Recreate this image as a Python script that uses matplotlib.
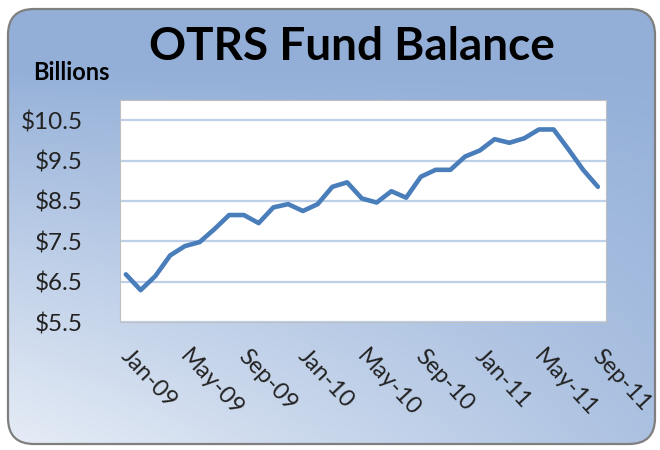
import numpy as np
import matplotlib
matplotlib.use("Agg")
import matplotlib.pyplot as plt
import matplotlib.transforms as mtransforms
from matplotlib.patches import FancyBboxPatch
from matplotlib.colors import to_rgb

# ---- data ----
months = ["Jan-09", "Feb-09", "Mar-09", "Apr-09", "May-09", "Jun-09", "Jul-09", "Aug-09",
          "Sep-09", "Oct-09", "Nov-09", "Dec-09",
          "Jan-10", "Feb-10", "Mar-10", "Apr-10", "May-10", "Jun-10", "Jul-10", "Aug-10",
          "Sep-10", "Oct-10", "Nov-10", "Dec-10",
          "Jan-11", "Feb-11", "Mar-11", "Apr-11", "May-11", "Jun-11", "Jul-11", "Aug-11", "Sep-11"]
balance = [6.68, 6.29, 6.64, 7.15, 7.38, 7.48, 7.80, 8.15, 8.15, 7.95, 8.34, 8.42,
           8.25, 8.42, 8.85, 8.96, 8.56, 8.46, 8.74, 8.58, 9.10, 9.27, 9.27, 9.60,
           9.75, 10.03, 9.94, 10.05, 10.27, 10.27, 9.78, 9.27, 8.85]
y_ticks = [5.5, 6.5, 7.5, 8.5, 9.5, 10.5]
y_labels = ["$5.5", "$6.5", "$7.5", "$8.5", "$9.5", "$10.5"]
title = "OTRS Fund Balance"
unit_label = "Billions"

plt.rcParams['font.family'] = ['Lato', 'DejaVu Sans']

W, H = 660, 450
fig = plt.figure(figsize=(W / 100, H / 100), dpi=100)

# ---- background gradient in a rounded box ----
bg = fig.add_axes([0, 0, 1, 1])
bg.set_xlim(0, W)
bg.set_ylim(H, 0)
bg.axis('off')
dark = np.array(to_rgb('#93AFD8'))
light = np.array(to_rgb('#E8EEF7'))
yy, xx = np.mgrid[0:H, 0:W]
v = yy / H
u = xx / W
f = np.clip((v - 0.15) / 0.85, 0, 1) * np.clip(1.0 - 0.75 * u, 0, 1)
f = f ** 0.9
img = dark[None, None, :] * (1 - f[..., None]) + light[None, None, :] * f[..., None]
im = bg.imshow(img, extent=(0, W, H, 0), zorder=0)
box = FancyBboxPatch((8, 9), W - 13, H - 15, boxstyle="round,pad=0,rounding_size=26",
                     facecolor='none', edgecolor='#7f7f7f', linewidth=1.6, zorder=2)
bg.add_patch(box)
im.set_clip_path(box)

# ---- plot area ----
ax = fig.add_axes([120 / W, 1 - 322 / H, 486 / W, 222 / H])
ax.set_facecolor('white')
x = np.arange(len(months))
ax.plot(x, balance, color='#4A7EBB', linewidth=3.3, solid_joinstyle='round',
        solid_capstyle='round', zorder=3)
ax.set_xlim(-0.4, len(months) - 1 + 0.55)
ax.set_ylim(5.5, 11.0)
ax.set_yticks(y_ticks)
ax.set_yticklabels(y_labels, fontsize=17.5, color='#222222')
ax.yaxis.grid(True, color='#BDD0E8', linewidth=1.6)
ax.set_axisbelow(True)
tick_idx = list(range(0, len(months), 4))
ax.set_xticks(tick_idx)
ax.set_xticklabels([months[i] for i in tick_idx], fontsize=17, color='#222222',
                   rotation=-47, ha='left', va='top', rotation_mode='anchor')
ax.tick_params(axis='both', length=0)
ax.tick_params(axis='y', pad=27)
ax.tick_params(axis='x', pad=17)
offset = mtransforms.ScaledTranslation(6 / 100, 0, fig.dpi_scale_trans)
for lbl in ax.get_xticklabels():
    lbl.set_transform(lbl.get_transform() + offset)
for s in ax.spines.values():
    s.set_color('#BFBFBF')
    s.set_linewidth(0.8)

# ---- titles ----
fig.text(352 / W, 1 - 47 / H, title, fontsize=33, fontweight='bold', ha='center',
         va='center', color='black')
fig.text(71 / W, 1 - 72 / H, unit_label, fontsize=17, fontweight='bold', ha='center',
         va='center', color='black')

fig.savefig('out.png', dpi=100)
